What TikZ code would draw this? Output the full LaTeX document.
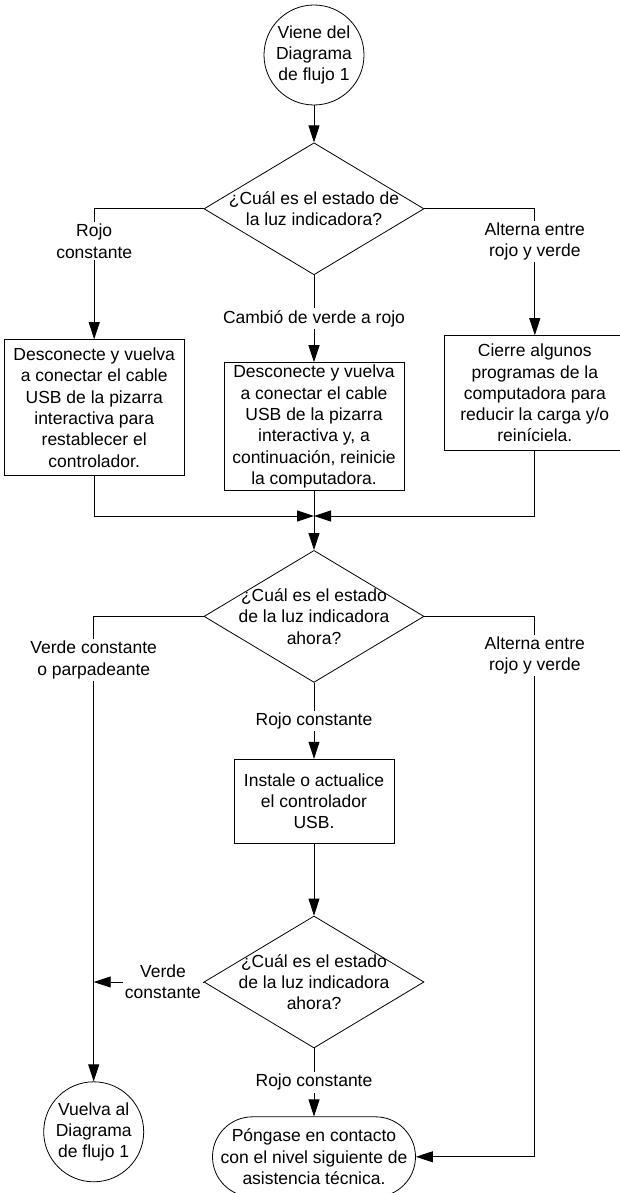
\documentclass[tikz,border=0pt]{standalone}
\usepackage{fontspec}
\setmainfont{Liberation Sans}
\usetikzlibrary{arrows.meta, positioning, shapes.geometric}
\tikzset{
  term/.style ={circle, draw, minimum size=100pt, inner sep=0pt, align=center},
  blk/.style  ={rectangle, draw, minimum width=180pt, align=center, inner sep=2pt},
  dec/.style  ={diamond, draw, aspect=1.667, minimum width=220pt, minimum height=132pt, inner xsep=-25pt, inner ysep=0pt, align=center},
  stad/.style ={rectangle, rounded corners=40pt, draw, minimum width=203pt, minimum height=80pt, align=center},
  fl/.style   ={-{Triangle[length=17pt, width=11pt]}},
  lbl/.style  ={fill=white, inner sep=2pt, align=center},
}

\begin{document}
\begin{tikzpicture}[x=1pt, y=1pt, line width=0.8pt, font=\fontsize{17.5}{21.3}\selectfont]
  \useasboundingbox (0,0) rectangle (619,-1193);
  \node[term] (c1) at (314,-55) {Viene del\\Diagrama\\de flujo 1};
  \node[dec, below=37pt of c1] (d1) {¿Cuál es el estado de\\la luz indicadora?};
  \node[blk, minimum height=128pt, below=87pt of d1] (b2) {Desconecte y vuelva\\a conectar el cable\\USB de la pizarra\\interactiva y, a\\continuación, reinicie\\la computadora.};
  \node[blk, minimum height=136pt, left=39pt of b2, yshift=19pt] (b1) {Desconecte y vuelva\\a conectar el cable\\USB de la pizarra\\interactiva para\\restablecer el\\controlador.};
  \node[blk, minimum height=115pt, right=40pt of b2, yshift=33.5pt] (b3) {Cierre algunos\\programas de la\\computadora para\\reducir la carga y/o\\reiníciela.};
  \coordinate[below=25pt of b2] (m);
  \node[dec, below=59pt of b2] (d2) {¿Cuál es el estado\\de la luz indicadora\\ahora?};
  \node[blk, minimum width=160pt, minimum height=84pt, below=76pt of d2] (b4) {Instale o actualice\\el controlador\\USB.};
  \node[dec, below=72pt of b4] (d3) {¿Cuál es el estado\\de la luz indicadora\\ahora?};
  \node[stad, below=68pt of d3] (st) {Póngase en contacto\\con el nivel siguiente de\\asistencia técnica.};
  \node[term, left=68pt of st, yshift=25pt] (c2) {Vuelva al\\Diagrama\\de flujo 1};
  % primer nivel
  \draw[fl] (c1) -- (d1);
  \draw[fl] (d1.west) -| node[lbl, pos=0.624]{Rojo\\constante} (b1.north);
  \draw[fl] (d1) -- node[lbl]{Cambió de verde a rojo} (b2);
  \draw[fl] (d1.east) -| node[lbl, pos=0.63]{Alterna entre\\rojo y verde} (b3.north);
  \draw[fl] (b1) |- (m);
  \draw[fl] (b3) |- (m);
  \draw[fl] (b2) -- (d2);
  % segundo nivel
  \draw[fl] (d2.west) -| node[lbl, pos=0.547]{Verde constante\\o parpadeante} (c2.north);
  \draw[fl] (d2.east) -| node[lbl, pos=0.536]{Alterna entre\\rojo y verde} (b3.south |- st.east) -- (st.east);
  \draw[fl] (d2) -- node[lbl]{Rojo constante} (b4);
  \draw[fl] (b4) -- (d3);
  \draw[fl] (d3.west) -- node[lbl, pos=0.37]{Verde\\constante} (d3.west -| c2.north);
  \draw[fl] (d3) -- node[lbl]{Rojo constante} (st);
\end{tikzpicture}
\end{document}
